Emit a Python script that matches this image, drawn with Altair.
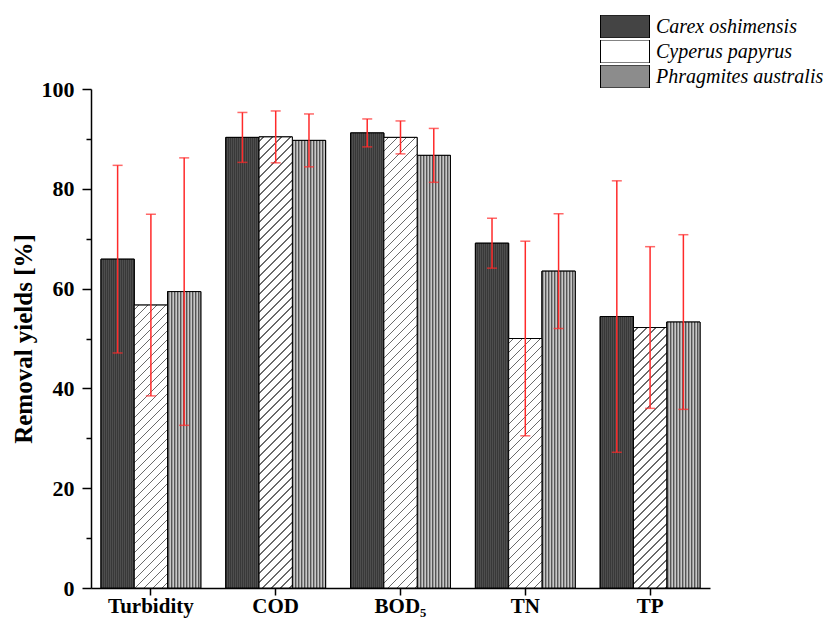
import altair as alt
import pandas as pd

categories = ["Turbidity", "COD", "BOD₅", "TN", "TP"]
species = ["Carex oshimensis", "Cyperus papyrus", "Phragmites australis"]

carex_mean = [65.9, 90.3, 91.2, 69.1, 54.4]
carex_sd = [18.8, 5.0, 2.8, 5.0, 27.2]
cyperus_mean = [56.7, 90.4, 90.3, 50.0, 52.2]
cyperus_sd = [18.2, 5.2, 3.3, 19.5, 16.2]
phrag_mean = [59.4, 89.7, 86.7, 63.5, 53.3]
phrag_sd = [26.8, 5.3, 5.4, 11.5, 17.5]

means = [carex_mean, cyperus_mean, phrag_mean]
sds = [carex_sd, cyperus_sd, phrag_sd]

rows = []
for si, sp in enumerate(species):
    for ci, cat in enumerate(categories):
        m = means[si][ci]
        s = sds[si][ci]
        rows.append({"cat": cat, "sp": sp, "mean": m, "lo": m - s, "hi": m + s})
df = pd.DataFrame(rows)

W, H = 619, 499
FONT = "Liberation Serif, Times New Roman, DejaVu Serif, serif"
# bar width in px (band scale: paddingInner 0.2, paddingOuter 0.08, 3 sub-bars)
step = W / (len(categories) - 0.2 + 2 * 0.08)
bar_w = step * 0.8 / 3


def vstripes(pattern, w):
    stops = []
    x = 0.0
    i = 0
    while x < w:
        col, pw = pattern[i % len(pattern)]
        a = x / w
        b = min((x + pw) / w, 1.0)
        stops.append({"offset": a, "color": col})
        stops.append({"offset": b, "color": col})
        x += pw
        i += 1
    return {"gradient": "linear", "x1": 0, "y1": 0, "x2": 1, "y2": 0, "stops": stops}


def hatch(w, h, spacing=9.0, thick=1.1, bg="#ffffff", fg="#6a6a6a"):
    k = w / (w * w + h * h)
    total = w + h
    stops = [{"offset": 0, "color": bg}]
    c = spacing / 2
    while c - thick / 2 < total:
        a = max((c - thick / 2) * k, 0)
        b = min((c + thick / 2) * k, 1)
        stops.append({"offset": a, "color": bg})
        stops.append({"offset": a, "color": fg})
        stops.append({"offset": b, "color": fg})
        stops.append({"offset": b, "color": bg})
        c += spacing
    stops.append({"offset": 1, "color": bg})
    return {"gradient": "linear", "x1": 0, "y1": 0, "x2": 1, "y2": h / w, "stops": stops}


x_enc = alt.X("cat:N", sort=categories,
              scale=alt.Scale(domain=categories, paddingInner=0.2, paddingOuter=0.08),
              axis=alt.Axis(title=None, labelAngle=0, labelFont=FONT, labelFontWeight="bold",
                            labelFontSize=21, labelColor="black", tickSize=7, tickWidth=1.5,
                            tickColor="black", domainColor="black", domainWidth=1.5,
                            labelPadding=0))
xo_enc = alt.XOffset("sp:N", sort=species, scale=alt.Scale(domain=species, paddingInner=0, paddingOuter=0))
y_enc = alt.Y("mean:Q",
              scale=alt.Scale(domain=[0, 100], nice=False, zero=True),
              axis=alt.Axis(title="Removal yields [%]", values=list(range(0, 101, 10)),
                            labelExpr="datum.value % 20 === 0 ? datum.label : ''",
                            tickSize={"condition": {"test": "datum.value % 20 === 0", "value": 9}, "value": 5},
                            tickWidth=1.5, tickColor="black", domainColor="black", domainWidth=1.5,
                            labelFont=FONT, labelFontWeight="bold", labelFontSize=22,
                            labelColor="black", labelPadding=8, grid=False,
                            titleFont=FONT, titleFontWeight="bold", titleFontSize=25,
                            titleColor="black", titlePadding=5))

base = alt.Chart(df)

bars = base.mark_bar(stroke="black", strokeWidth=1).encode(
    x=x_enc, xOffset=xo_enc, y=y_enc,
    fill=alt.Fill("sp:N", sort=species,
                  scale=alt.Scale(domain=species, range=["#444444", "#ffffff", "#8c8c8c"]),
                  legend=alt.Legend(title=None, orient="none", legendX=509, legendY=-74,
                                    symbolType="M-1,-0.47H1V0.47H-1Z", symbolSize=2401,
                                    symbolStrokeColor="black", symbolStrokeWidth=1,
                                    labelFont=FONT, labelFontStyle="italic", labelFontSize=20,
                                    labelColor="black", labelOffset=6, rowPadding=2,
                                    clipHeight=23, labelLimit=300)),
)

layers = [bars]

carex_fill = vstripes([("#383838", 1.0), ("#4e4e4e", 1.0)], bar_w)
layers.append(base.transform_filter(alt.datum.sp == species[0]).mark_bar(
    stroke="black", strokeWidth=1, fill=carex_fill).encode(x=x_enc, xOffset=xo_enc, y=y_enc))

phrag_fill = vstripes([("#555555", 1.0), ("#9a9a9a", 1.0), ("#c8c8c8", 1.0)], bar_w)
layers.append(base.transform_filter(alt.datum.sp == species[2]).mark_bar(
    stroke="black", strokeWidth=1, fill=phrag_fill).encode(x=x_enc, xOffset=xo_enc, y=y_enc))

for ci, cat in enumerate(categories):
    h = cyperus_mean[ci] * H / 100.0
    layers.append(base.transform_filter(
        (alt.datum.sp == species[1]) & (alt.datum.cat == cat)).mark_bar(
        stroke="black", strokeWidth=1, fill=hatch(bar_w, h)).encode(x=x_enc, xOffset=xo_enc, y=y_enc))

err = base.mark_rule(color="#ff2a2a", strokeWidth=1.5).encode(
    x=x_enc, xOffset=xo_enc, y="lo:Q", y2="hi:Q")
caps = base.transform_fold(["lo", "hi"], as_=["k", "v"]).mark_tick(
    color="#ff2a2a", thickness=1.5, size=10, orient="horizontal").encode(
    x=x_enc, xOffset=xo_enc, y="v:Q")
layers += [err, caps]

chart = alt.layer(*layers).properties(
    width=W, height=H,
    background="white",
    autosize=alt.AutoSizeParams(type="none"),
    padding={"left": 83, "top": 81, "right": 115, "bottom": 30},
).configure_view(stroke=None, strokeWidth=0)

chart.save("out.html", embed_options={"renderer": "svg", "actions": False})
